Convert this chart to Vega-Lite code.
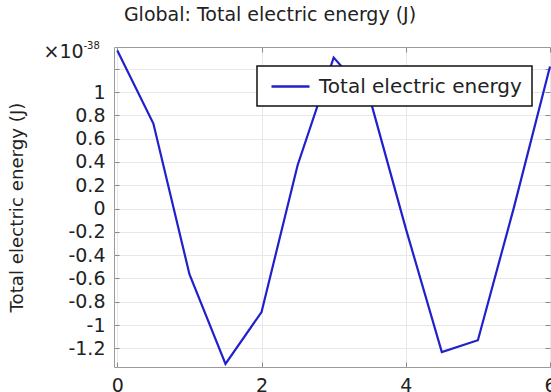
{
  "$schema": "https://vega.github.io/schema/vega-lite/v6.json",
  "autosize": {"type": "none"},
  "padding": {"left": 114, "top": 47, "right": 1, "bottom": 25},
  "width": 436,
  "height": 320,
  "background": "white",
  "title": {
    "text": "Global: Total electric energy (J)",
    "anchor": "middle",
    "frame": "group",
    "dx": -62,
    "dy": 24,
    "baseline": "alphabetic",
    "offset": 24,
    "font": "DejaVu Sans",
    "fontSize": 19,
    "fontWeight": "normal",
    "color": "#222222"
  },
  "data": {
    "values": [
      {"t": 0, "energy": 1.356, "series": "Total electric energy"},
      {"t": 0.5, "energy": 0.73, "series": "Total electric energy"},
      {"t": 1, "energy": -0.563, "series": "Total electric energy"},
      {"t": 1.5, "energy": -1.334, "series": "Total electric energy"},
      {"t": 2, "energy": -0.888, "series": "Total electric energy"},
      {"t": 2.5, "energy": 0.372, "series": "Total electric energy"},
      {"t": 3, "energy": 1.296, "series": "Total electric energy"},
      {"t": 3.5, "energy": 0.95, "series": "Total electric energy"},
      {"t": 4, "energy": -0.17, "series": "Total electric energy"},
      {"t": 4.5, "energy": -1.232, "series": "Total electric energy"},
      {"t": 5, "energy": -1.13, "series": "Total electric energy"},
      {"t": 5.5, "energy": 0.01, "series": "Total electric energy"},
      {"t": 6, "energy": 1.22, "series": "Total electric energy"}
    ]
  },
  "layer": [
    {
      "mark": {"type": "line", "strokeWidth": 2.2},
      "encoding": {
        "x": {
          "field": "t", "type": "quantitative",
          "scale": {"domain": [-0.046, 6.0], "nice": false, "zero": false},
          "axis": {
            "orient": "bottom",
            "values": [0, 2, 4, 6],
            "labelExpr": "'' + datum.value",
            "title": null,
            "grid": true,
            "labelPadding": 14,
            "labelFlush": false,
            "labelOverlap": false
          }
        },
        "y": {
          "field": "energy", "type": "quantitative",
          "scale": {"domain": [-1.36, 1.387], "nice": false, "zero": false},
          "axis": {
            "orient": "left",
            "values": [-1.2, -1, -0.8, -0.6, -0.4, -0.2, 0, 0.2, 0.4, 0.6, 0.8, 1, 1.2],
            "labelExpr": "datum.value > 1.1 ? '' : '' + datum.value",
            "title": "Total electric energy (J)",
            "titleAngle": -90,
            "titleX": -92,
            "titleY": 160,
            "titleAlign": "center",
            "titleBaseline": "alphabetic",
            "titleFontSize": 18.2,
            "grid": true,
            "labelPadding": 14,
            "labelFlush": false,
            "labelOverlap": false
          }
        },
        "color": {
          "field": "series", "type": "nominal",
          "scale": {"range": ["#2020cc"]},
          "legend": {
            "orient": "none",
            "legendX": 143,
            "legendY": 19,
            "title": null
          }
        }
      }
    },
    {
      "mark": {"type": "line", "strokeOpacity": 0},
      "encoding": {
        "x": {
          "field": "t", "type": "quantitative",
          "axis": {
            "orient": "top",
            "values": [0, 2, 4, 6],
            "labels": false,
            "grid": false,
            "title": "-38",
            "titleX": -31,
            "titleY": 1,
            "titleAlign": "left",
            "titleBaseline": "alphabetic",
            "titleFontSize": 10
          }
        },
        "y": {
          "field": "energy", "type": "quantitative",
          "axis": {
            "orient": "right",
            "values": [-1.2, -1, -0.8, -0.6, -0.4, -0.2, 0, 0.2, 0.4, 0.6, 0.8, 1, 1.2],
            "labels": false,
            "grid": false,
            "title": "×10",
            "titleAngle": 0,
            "titleX": -507,
            "titleY": 10,
            "titleAlign": "left",
            "titleBaseline": "alphabetic",
            "titleFontSize": 19
          }
        }
      }
    }
  ],
  "resolve": {"axis": {"x": "independent", "y": "independent"}},
  "config": {
    "view": {"stroke": "#9a9a9a", "strokeWidth": 1},
    "font": "DejaVu Sans",
    "axis": {
      "domain": false,
      "tickSize": -5,
      "tickColor": "#8a8a8a",
      "gridColor": "#e8e8e8",
      "gridWidth": 1,
      "labelFont": "DejaVu Sans",
      "labelFontSize": 19,
      "labelColor": "#222222",
      "titleFont": "DejaVu Sans",
      "titleFontSize": 19,
      "titleFontWeight": "normal",
      "titleColor": "#222222"
    },
    "legend": {
      "strokeColor": "#111111",
      "strokeWidth": 1.5,
      "fillColor": "white",
      "padding": 9.5,
      "symbolType": "M-2,0H2",
      "symbolSize": 361,
      "symbolStrokeWidth": 2.5,
      "symbolOffset": 13,
      "labelFont": "DejaVu Sans",
      "labelFontSize": 20,
      "labelColor": "#222222",
      "labelOffset": 17.5,
      "labelLimit": 400
    }
  }
}
